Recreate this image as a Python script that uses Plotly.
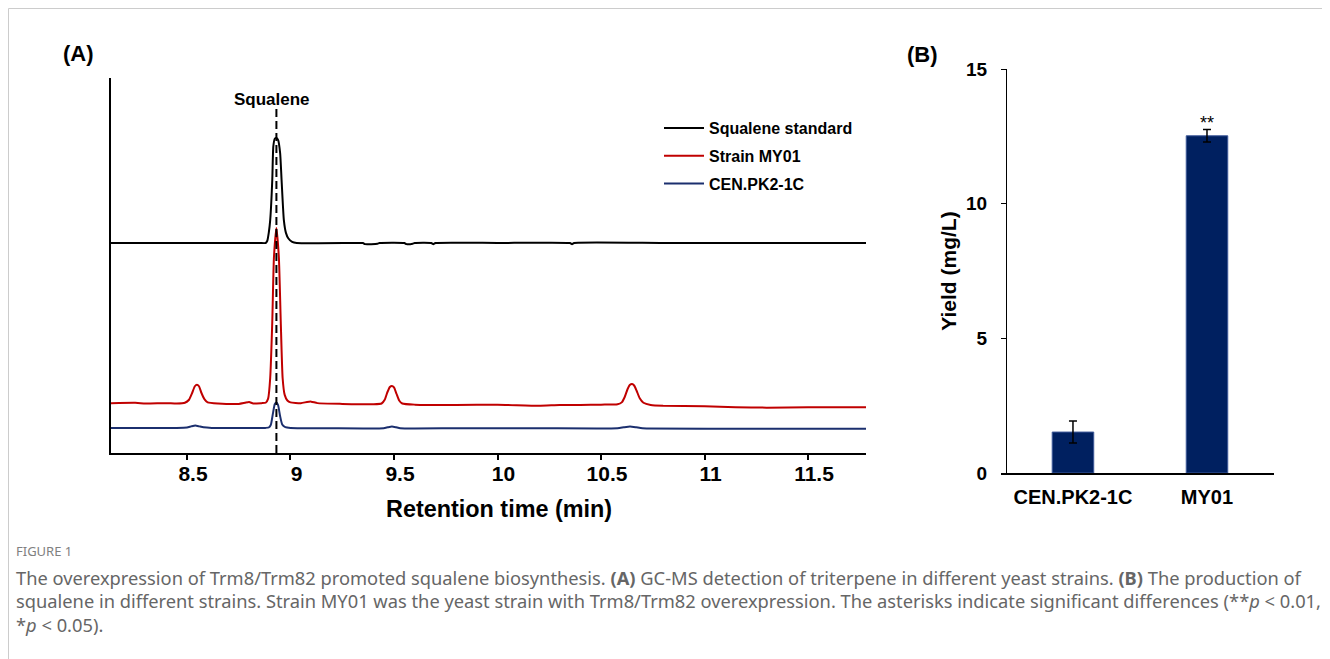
import plotly.graph_objects as go

# ---------------- Panel A data: GC-MS chromatograms (arbitrary abundance) ----------------
black_t = [8.133, 8.40, 8.60, 8.85, 8.880, 8.888, 8.895, 8.902, 8.912, 8.917, 8.924, 8.932, 8.940,
           8.950, 8.957, 8.968, 8.978, 8.990, 9.008, 9.03,
           9.30, 9.35, 9.36, 9.42, 9.43, 9.55, 9.56, 9.59, 9.60, 9.68, 9.69, 9.70, 10.00, 10.35, 10.36,
           10.37, 10.80, 11.20, 11.78]
black_v = [56.0, 56.0, 56.0, 56.0, 56.0, 56.6, 58.7, 62.1, 72.8, 81.7, 83.8, 84.0, 83.5,
           80.0, 72.8, 62.1, 58.7, 57.2, 56.3, 56.0,
           56.0, 56.0, 55.7, 55.8, 56.0, 56.0, 55.7, 55.8, 56.0, 56.0, 55.7, 56.0, 56.0, 56.0, 55.7,
           56.0, 56.0, 56.0, 56.0]

red_t = [8.133, 8.25, 8.30, 8.40, 8.45, 8.49, 8.51, 8.525, 8.538, 8.548, 8.558, 8.570, 8.585, 8.60,
         8.65, 8.75, 8.78, 8.80, 8.82, 8.86, 8.880, 8.892, 8.902, 8.912, 8.920, 8.932, 8.944, 8.953,
         8.962, 8.972, 8.985, 9.00, 9.05, 9.08, 9.10, 9.13, 9.25, 9.40, 9.44, 9.455, 9.468, 9.480,
         9.490, 9.500, 9.512, 9.525, 9.54, 9.60, 9.80, 10.00, 10.20, 10.30, 10.40, 10.50, 10.58, 10.60,
         10.615, 10.628, 10.640, 10.650, 10.660, 10.672, 10.687, 10.705, 10.74, 10.80, 11.00, 11.15,
         11.30, 11.50, 11.78]
red_v = [13.3, 13.4, 13.2, 13.3, 13.2, 13.4, 14.2, 16.0, 17.8, 18.2, 17.8, 16.0, 14.3, 13.5,
         13.2, 13.1, 13.4, 13.6, 13.2, 13.3, 13.4, 14.5, 20.0, 35.0, 52.0, 60.0, 52.0, 35.0,
         20.0, 15.5, 14.0, 13.5, 13.3, 13.6, 13.7, 13.3, 13.1, 13.0, 13.2, 14.2, 16.2, 17.6,
         17.9, 17.5, 15.8, 14.0, 13.2, 12.9, 12.8, 12.9, 12.6, 12.8, 12.8, 12.9, 13.0, 13.5,
         15.0, 17.0, 18.2, 18.4, 18.0, 16.6, 14.6, 13.4, 12.8, 12.6, 12.5, 12.2,
         12.1, 12.2, 12.2]

blue_t = [8.133, 8.30, 8.45, 8.50, 8.52, 8.54, 8.56, 8.58, 8.62, 8.80, 8.88, 8.895, 8.905, 8.915,
          8.924, 8.932, 8.940, 8.950, 8.960, 8.975, 9.00, 9.20, 9.45, 9.47, 9.49, 9.51, 9.53, 9.80,
          10.20, 10.58, 10.61, 10.64, 10.67, 10.70, 11.20, 11.78]
blue_v = [6.7, 6.7, 6.7, 6.8, 7.1, 7.35, 7.1, 6.85, 6.7, 6.7, 6.7, 6.8, 7.5, 10.5,
          13.0, 13.5, 12.8, 9.8, 7.6, 6.9, 6.7, 6.6, 6.6, 6.85, 7.05, 6.85, 6.6, 6.6,
          6.6, 6.6, 6.85, 7.05, 6.85, 6.6, 6.5, 6.5]

series_names = ["Squalene standard", "Strain MY01", "CEN.PK2-1C"]
squalene_rt = 8.932
x_ticks_A = [8.5, 9, 9.5, 10, 10.5, 11, 11.5]
x_ticklabels_A = ["8.5", "9", "9.5", "10", "10.5", "11", "11.5"]

# ---------------- Panel B data: squalene yield ----------------
strains = ["CEN.PK2-1C", "MY01"]
yield_mg_L = [1.52, 12.52]
yield_err = [0.41, 0.23]
significance = ["", "**"]
y_ticks_B = [0, 5, 10, 15]

# ---------------- figure geometry ----------------
WIN_W, WIN_H = 1330, 659
OFF = 8                       # default page body margin
W, H = WIN_W - OFF, WIN_H - OFF


def px_x(p):
    return (p - OFF) / W


def px_y(p):
    return (WIN_H - p) / H


fig = go.Figure()

colors = ["#000000", "#c00000", "#1b2f6e"]
for name, t, v, c in zip(series_names, [black_t, red_t, blue_t], [black_v, red_v, blue_v], colors):
    fig.add_trace(go.Scatter(x=t, y=v, mode="lines", name=name, legendgroup=name,
                             line=dict(color=c, width=2, shape="spline", smoothing=0.5),
                             xaxis="x", yaxis="y"))

fig.add_trace(go.Scatter(x=[squalene_rt, squalene_rt], y=[0, 92], mode="lines", showlegend=False,
                         line=dict(color="black", width=2, dash="8px,4px"), xaxis="x", yaxis="y"))

fig.add_trace(go.Bar(x=strains, y=yield_mg_L, width=0.31, showlegend=False,
                     marker=dict(color="#002060", line=dict(color="#3f5a9a", width=1)),
                     error_y=dict(type="data", array=yield_err, color="black", thickness=1.5, width=4),
                     text=significance, textposition="outside",
                     textfont=dict(size=18, color="black", family="Liberation Sans, Arial"),
                     cliponaxis=False,
                     xaxis="x2", yaxis="y2"))

font_fam = "Liberation Sans, Arial, sans-serif"

fig.update_layout(
    template="none",
    width=W, height=H, margin=dict(l=0, r=0, t=0, b=0, autoexpand=False),
    paper_bgcolor="white", plot_bgcolor="white",
    font=dict(family=font_fam, color="black"),
    showlegend=True,
    legend=dict(x=px_x(659), y=px_y(111), xanchor="left", yanchor="top",
                font=dict(size=16, family=font_fam, color="black", weight="bold"),
                bgcolor="rgba(0,0,0,0)", tracegroupgap=4, itemwidth=40),
    xaxis=dict(domain=[px_x(111), px_x(866)], range=[8.133, 11.78], automargin=False,
               showline=True, linecolor="black", linewidth=2, mirror=False,
               showgrid=False, zeroline=False,
               ticks="outside", ticklen=5, tickwidth=2, tickcolor="black",
               tickvals=x_ticks_A, ticktext=x_ticklabels_A,
               ticklabelstandoff=-4, ticklabelshift=6,
               tickfont=dict(size=21, family=font_fam, weight="bold"),
               anchor="y"),
    yaxis=dict(domain=[px_y(453), px_y(78)], range=[0, 100], automargin=False,
               showline=True, linecolor="black", linewidth=2,
               showgrid=False, zeroline=False, showticklabels=False, ticks="",
               anchor="x"),
    xaxis2=dict(domain=[px_x(1001), px_x(1274)], range=[-0.537, 1.5], automargin=False,
                showline=True, linecolor="black", linewidth=2,
                showgrid=False, zeroline=False, ticks="",
                ticklabelstandoff=5,
                tickfont=dict(size=20, family=font_fam, weight="bold"),
                anchor="y2"),
    yaxis2=dict(domain=[px_y(473), px_y(69)], range=[0, 15], automargin=False,
                showline=True, linecolor="black", linewidth=1,
                showgrid=False, zeroline=False,
                ticks="outside", ticklen=5, tickwidth=1, tickcolor="black",
                tickvals=y_ticks_B, ticklabelstandoff=10,
                tickfont=dict(size=19, family=font_fam, weight="bold"),
                title=dict(text="Yield (mg/L)", standoff=2,
                           font=dict(size=21, family=font_fam, weight="bold")),
                anchor="free", position=px_x(1006)),
)

# x-axis title of panel A (offset right of the axis centre, as in the original)
fig.add_annotation(text="<b>Retention time (min)</b>", x=px_x(499), y=px_y(509), xref="paper", yref="paper",
                   xanchor="center", yanchor="middle", showarrow=False,
                   font=dict(size=23.4, family=font_fam, color="black"))

# panel labels
fig.add_annotation(text="<b>(A)</b>", x=px_x(78), y=px_y(54), xref="paper", yref="paper",
                   xanchor="center", yanchor="middle",
                   showarrow=False, font=dict(size=22, family=font_fam, color="black"))
fig.add_annotation(text="<b>(B)</b>", x=px_x(922), y=px_y(55), xref="paper", yref="paper",
                   xanchor="center", yanchor="middle",
                   showarrow=False, font=dict(size=22, family=font_fam, color="black"))
fig.add_annotation(text="<b>Squalene</b>", x=squalene_rt - 0.02, y=94.4, xref="x", yref="y",
                   xanchor="center", yanchor="middle",
                   showarrow=False, font=dict(size=17, family=font_fam, color="black"))

# outer frame
fig.add_shape(type="rect", xref="paper", yref="paper", x0=px_x(8.5), x1=px_x(1328.5),
              y0=-0.05, y1=px_y(8.5), line=dict(color="#cccccc", width=1), fillcolor="rgba(0,0,0,0)")

# caption
cap_font = "Noto Sans, Open Sans, sans-serif"
fig.add_annotation(text="FIGURE 1", x=px_x(14), y=px_y(551), xref="paper", yref="paper",
                   xanchor="left", yanchor="middle", showarrow=False,
                   font=dict(size=13, family=cap_font, color="#808080"))
caption_lines = [
    "The overexpression of Trm8/Trm82 promoted squalene biosynthesis. <b>(A)</b> GC-MS detection of triterpene in different yeast strains. <b>(B)</b> The production of",
    "squalene in different strains. Strain MY01 was the yeast strain with Trm8/Trm82 overexpression. The asterisks indicate significant differences (**<i>p</i> &lt; 0.01,",
    "*<i>p</i> &lt; 0.05).",
]
for i, line in enumerate(caption_lines):
    fig.add_annotation(text=line, x=px_x(14), y=px_y(577 + 23.5 * i), xref="paper", yref="paper",
                       xanchor="left", yanchor="middle", showarrow=False,
                       font=dict(size=18.3, family=cap_font, color="#666666"))

fig.write_html("out.html")
